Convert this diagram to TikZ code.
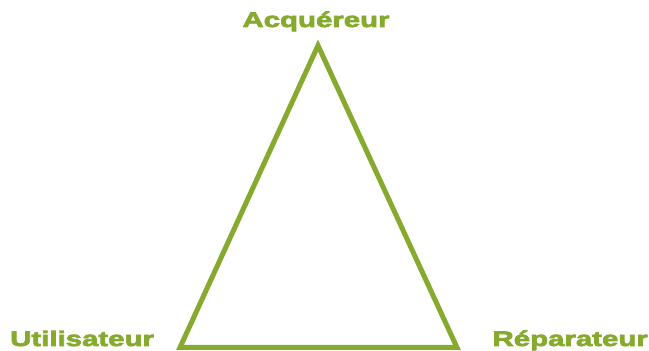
\documentclass[tikz,border=0pt]{standalone}
\usepackage{fontspec}
\usepackage{tikz}
\usetikzlibrary{positioning}
\newfontfamily\titre{Liberation Sans Bold}[FakeStretch=1.4,FakeBold=3.5]
\definecolor{vert}{RGB}{134,170,46}

\begin{document}
\begin{tikzpicture}[x=1pt,y=1pt,
        role/.style={inner sep=0pt,text=vert,font=\titre\fontsize{21}{23}\selectfont},
        cote/.style={draw=vert,line width=5pt,miter limit=20}]
      \useasboundingbox (0,0) rectangle (649,351);
      \coordinate (a) at (318,305.5);
      \coordinate (u) at (180,3.5);
      \coordinate (r) at (457,3.5);
      \node[role,anchor=base] (acq) at (316,324) {Acquéreur};
      \node[role,anchor=base west] (uti) at (10,5) {Utilisateur};
      \node[role,anchor=base east] (rep) at (648,5) {Réparateur};
      \draw[cote](a)--(u)--(r)--cycle;
    \end{tikzpicture}
\end{document}
